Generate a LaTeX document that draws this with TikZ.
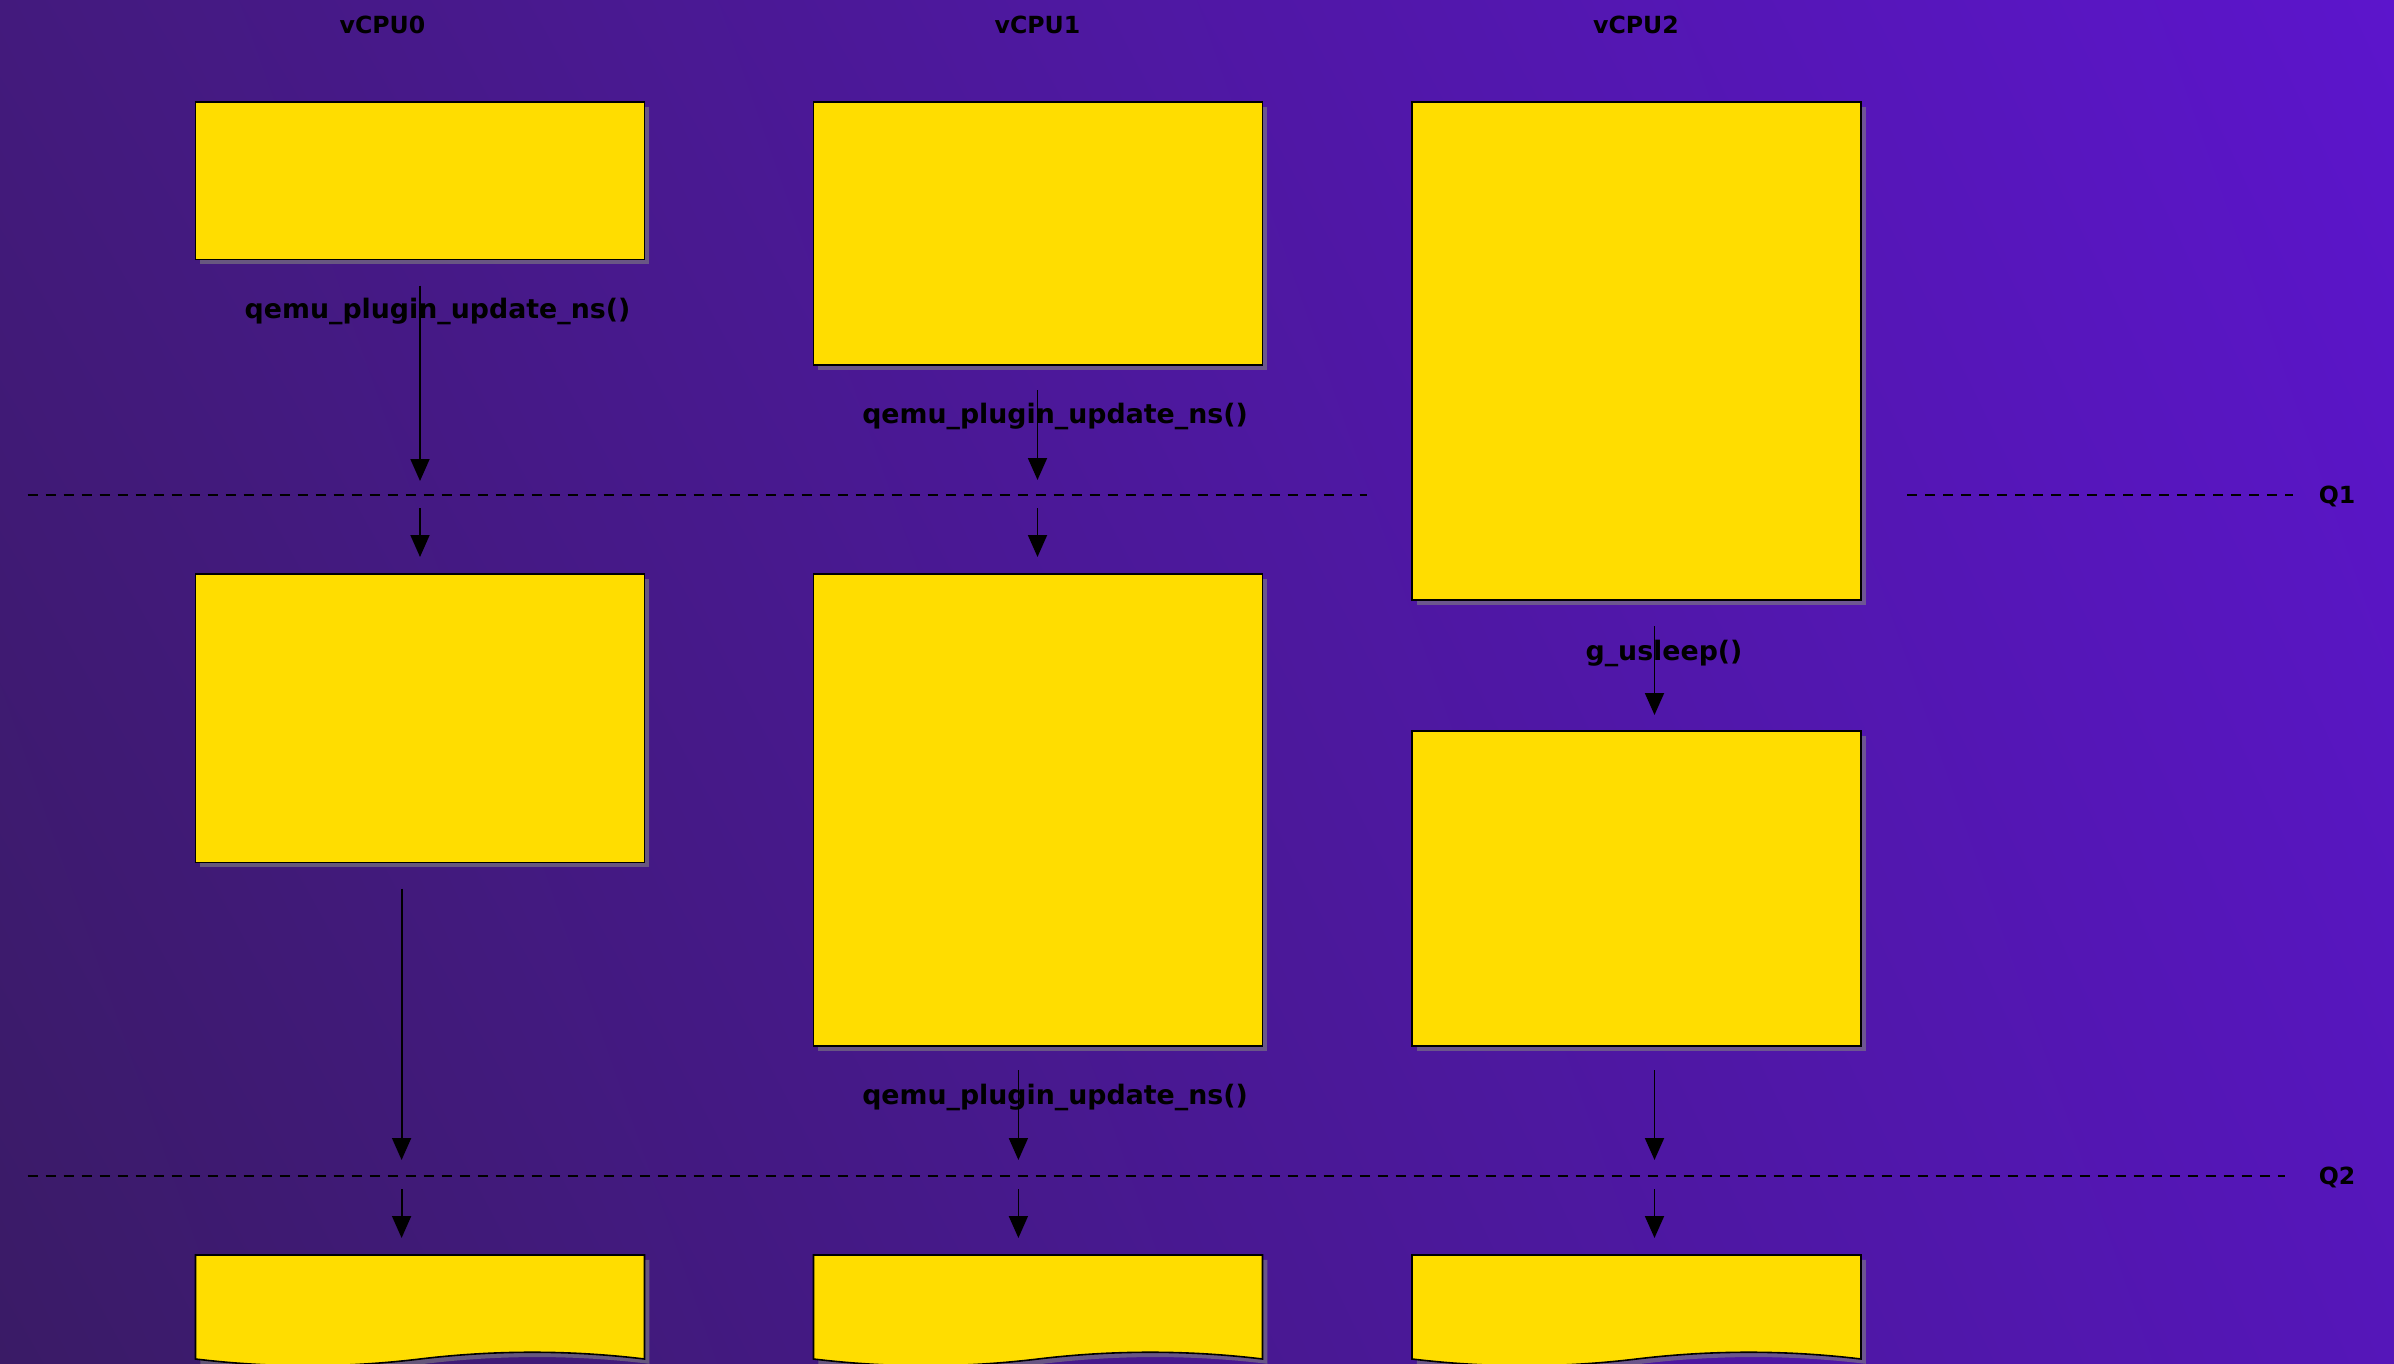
\documentclass[tikz,border=0pt]{standalone}
\usepackage{fontspec}
\setmainfont{DejaVu Sans}
\usetikzlibrary{arrows.meta,shadows,shadings}
\definecolor{bgTL}{HTML}{431A7D}
\definecolor{bgTR}{HTML}{5C15CC}
\definecolor{bgBL}{HTML}{3A1B66}
\definecolor{bgBR}{HTML}{5516B9}
\definecolor{boxyellow}{HTML}{FFDD00}
\tikzset{
  boxshadow/.style={drop shadow={shadow xshift=2.4pt, shadow yshift=-2.4pt, fill=gray, opacity=0.6}},
  box/.style={draw=black, line width=0.8pt, fill=boxyellow, inner sep=0pt, minimum width=224.5pt, boxshadow},
  flow/.style={-{Triangle[width=9.5pt,length=11pt]}, line width=0.9pt, black},
  qline/.style={dash pattern=on 5pt off 4pt, line width=0.9pt, black},
  lbl/.style={font=\fontsize{13.4pt}{15pt}\selectfont\bfseries, text=black, inner sep=0pt},
  head/.style={font=\fontsize{11.8pt}{14pt}\selectfont\bfseries, text=black, inner sep=0pt},
}
\begin{document}
\begin{tikzpicture}[x=0.5pt,y=-0.5pt]
\useasboundingbox (0,0) rectangle (2394,1364);
\clip (0,0) rectangle (2394,1364);
\shade[upper left=bgTL, upper right=bgTR, lower left=bgBL, lower right=bgBR] (0,0) rectangle (2394,1364);

% headers
\node[head] (h0) at (382.5,24.5) {vCPU0};
\node[head] (h1) at (1037.5,24.5) {vCPU1};
\node[head] (h2) at (1636,24.5) {vCPU2};

% quantum lines
\coordinate (q1a) at (27.5,495);
\coordinate (q1b) at (1366.5,495);
\coordinate (q1c) at (1907,495);
\coordinate (q1d) at (2293,495);
\coordinate (q2a) at (27.5,1176);
\coordinate (q2b) at (2285,1176);
\draw[qline] (q1a) -- (q1b);
\draw[qline] (q1c) -- (q1d);
\draw[qline] (q2a) -- (q2b);
\node[head] (Q1) at (2337,496) {Q1};
\node[head] (Q2) at (2337,1177) {Q2};

% boxes
\node[box, minimum height=78.8pt] (b0a) at (420,180.8) {};
\node[box, minimum height=131.5pt] (b1a) at (1038,233.5) {};
\node[box, minimum height=249pt] (b2a) at (1636.5,351) {};
\node[box, minimum height=144.3pt] (b0b) at (420,718.3) {};
\node[box, minimum height=236pt] (b1b) at (1038,810) {};
\node[box, minimum height=157.5pt] (b2b) at (1636.5,888.5) {};

% bottom document shapes
\foreach \L/\n in {195.5/0,813.5/1,1412/2}{
  \pgfmathsetmacro{\R}{\L+449}
  \pgfmathsetmacro{\M}{\L+224.5}
  \pgfmathsetmacro{\Ra}{\R-74.8}
  \pgfmathsetmacro{\Mb}{\M+74.8}
  \pgfmathsetmacro{\Ma}{\M-74.8}
  \pgfmathsetmacro{\La}{\L+74.8}
  \draw[line width=0.8pt, fill=boxyellow, boxshadow]
    (\L,1255) -- (\R,1255) -- (\R,1359)
    .. controls (\Ra,1350) and (\Mb,1350) .. (\M,1359)
    .. controls (\Ma,1368) and (\La,1368) .. (\L,1359) -- cycle;
}

% labels
\node[lbl] (l0) at (437.5,311) {qemu\_plugin\_update\_ns()};
\node[lbl] (l1) at (1055,416) {qemu\_plugin\_update\_ns()};
\node[lbl] (l2) at (1055,1097) {qemu\_plugin\_update\_ns()};
\node[lbl] (l3) at (1664,653) {g\_usleep()};

% arrows column 0
\coordinate (a0s) at (420,285.6); \coordinate (a0e) at (420,481);
\coordinate (a1s) at (420,508);   \coordinate (a1e) at (420,557);
\coordinate (a2s) at (401.6,888.6); \coordinate (a2e) at (401.6,1160);
\coordinate (a3s) at (401.6,1189); \coordinate (a3e) at (401.6,1238);
\draw[flow] (a0s) -- (a0e);
\draw[flow] (a1s) -- (a1e);
\draw[flow] (a2s) -- (a2e);
\draw[flow] (a3s) -- (a3e);
% arrows column 1
\coordinate (c0s) at (1037.5,390); \coordinate (c0e) at (1037.5,480);
\coordinate (c1s) at (1037.5,508); \coordinate (c1e) at (1037.5,557);
\coordinate (c2s) at (1018.4,1070); \coordinate (c2e) at (1018.4,1160);
\coordinate (c3s) at (1018.4,1189); \coordinate (c3e) at (1018.4,1238);
\draw[flow] (c0s) -- (c0e);
\draw[flow] (c1s) -- (c1e);
\draw[flow] (c2s) -- (c2e);
\draw[flow] (c3s) -- (c3e);
% arrows column 2
\coordinate (d0s) at (1654.5,626); \coordinate (d0e) at (1654.5,715);
\coordinate (d2s) at (1654.5,1070); \coordinate (d2e) at (1654.5,1160);
\coordinate (d3s) at (1654.5,1189); \coordinate (d3e) at (1654.5,1238);
\draw[flow] (d0s) -- (d0e);
\draw[flow] (d2s) -- (d2e);
\draw[flow] (d3s) -- (d3e);
\end{tikzpicture}
\end{document}
